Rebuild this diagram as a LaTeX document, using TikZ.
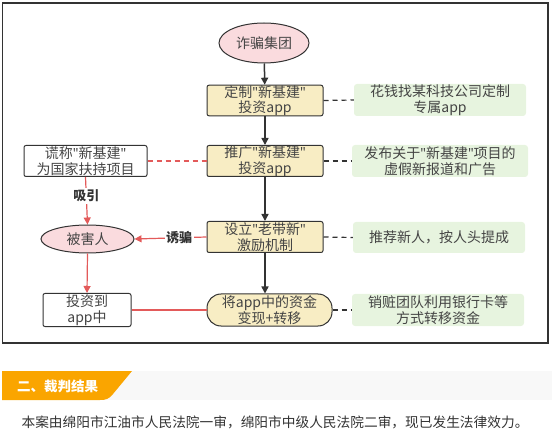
\documentclass[tikz,border=0pt]{standalone}
\usepackage{fontspec}
\setmainfont{Noto Sans CJK SC}
\newfontfamily\qfont{Noto Sans}
\newcommand\qt{{\qfont"}}
\usetikzlibrary{shapes.geometric,arrows.meta}
\definecolor{dk}{HTML}{333333}
\definecolor{txt}{HTML}{444444}
\definecolor{pinkf}{HTML}{FADBDE}
\definecolor{yelf}{HTML}{F8EDC4}
\definecolor{grnf}{HTML}{E7F4DF}
\definecolor{redl}{HTML}{E35A5A}
\definecolor{orng}{HTML}{FAA500}
\definecolor{bandg}{HTML}{F8F8F8}
\tikzset{
  base/.style={font=\fontsize{14}{15.5}\selectfont, text=txt, align=center, inner sep=0pt},
  oval/.style={base, ellipse, draw=dk, line width=1pt, fill=pinkf},
  ybox/.style={base, rectangle, draw=dk, line width=1pt, fill=yelf, rounded corners=2pt},
  wbox/.style={base, rectangle, draw=dk, line width=1pt, fill=white, rounded corners=2pt},
  gbox/.style={base, rectangle, fill=grnf, rounded corners=3pt},
  flow/.style={draw=dk, line width=1.5pt, -{Triangle[length=7pt,width=7pt]}},
  rflow/.style={draw=redl, line width=1.2pt, -{Triangle[length=7pt,width=7pt]}},
  dline/.style={draw=dk, line width=1.2pt, dash pattern=on 5pt off 4pt},
  rdline/.style={draw=redl, line width=1.2pt, dash pattern=on 5pt off 4pt},
  lab/.style={font=\bfseries\fontsize{13}{14}\selectfont, text=dk, fill=white, inner sep=1.5pt}
}
\begin{document}
\begin{tikzpicture}[x=1pt,y=-1pt]
\useasboundingbox (0,0) rectangle (554,430);
\draw[dk, line width=1.2pt] (2.5,3) rectangle (548,343);

\node[oval, minimum width=90pt, minimum height=40pt] (fraud) at (264,43) {诈骗集团};
\node[ybox, minimum width=116pt, minimum height=30pt] (b1) at (265,100.5) {定制\qt 新基建\qt\\投资app};
\node[gbox, minimum width=172pt, minimum height=32pt] (g1) at (440,100) {花钱找某科技公司定制\\专属app};
\node[ybox, minimum width=116pt, minimum height=31pt] (b2) at (265,161) {推广\qt 新基建\qt\\投资app};
\node[wbox, minimum width=123pt, minimum height=31pt] (left) at (85.5,161) {谎称\qt 新基建\qt\\为国家扶持项目};
\node[gbox, minimum width=176pt, minimum height=32pt] (g2) at (440,161) {发布关于\qt 新基建\qt 项目的\\虚假新报道和广告};
\node[oval, minimum width=93pt, minimum height=28pt] (victim) at (87.5,239) {被害人};
\node[ybox, minimum width=116pt, minimum height=31pt] (b3) at (265,237) {设立\qt 老带新\qt\\激励机制};
\node[gbox, minimum width=172pt, minimum height=31pt] (g3) at (439,237.5) {推荐新人，按人头提成};
\node[wbox, minimum width=88pt, minimum height=33pt] (invest) at (87,310) {投资到\\app中};
\node[ybox, rounded corners=14pt, minimum width=125pt, minimum height=32pt] (b4) at (269.5,310) {将app中的资金\\变现+转移};
\node[gbox, minimum width=172pt, minimum height=32pt] (g4) at (438,310) {销赃团队利用银行卡等\\方式转移资金};

\draw[flow] (fraud) -- (b1);
\draw[flow] (b1) -- (b2);
\draw[flow] (b2) -- (b3);
\draw[flow] (b3.south) -- (b3.south |- b4.north);
\draw[dline] (b1.east) -- (g1.west);
\draw[dline] (b2.east) -- (g2.west);
\draw[dline] (b3.east) -- (g3.west);
\draw[dline] (b4.east) -- (g4.west);
\draw[rdline] (left.east) -- (b2.west);
\draw[rflow] (left.south) -- node[lab, pos=0.4] {吸引} (victim.north);
\draw[rflow] (b3.west) -- node[lab, pos=0.38] {诱骗} (victim.east);
\draw[rflow] (victim.south) -- (invest.north);
\draw[redl, line width=1.2pt] (invest.east) -- (b4.west);

\fill[bandg] (2,371) rectangle (552,400);
\fill[orng] (2,371) -- (132,371) -- (113,394) .. controls (109,399) and (106,400) .. (100,400) -- (2,400) -- cycle;
\node[font=\bfseries\fontsize{13.5}{15}\selectfont, text=white, inner sep=0pt] (banner) at (57.5,386) {二、裁判结果};
\node[font=\fontsize{13.7}{15}\selectfont, text=dk, inner sep=0pt] (para) at (275,422) {本案由绵阳市江油市人民法院一审，绵阳市中级人民法院二审，现已发生法律效力。};
\end{tikzpicture}
\end{document}
